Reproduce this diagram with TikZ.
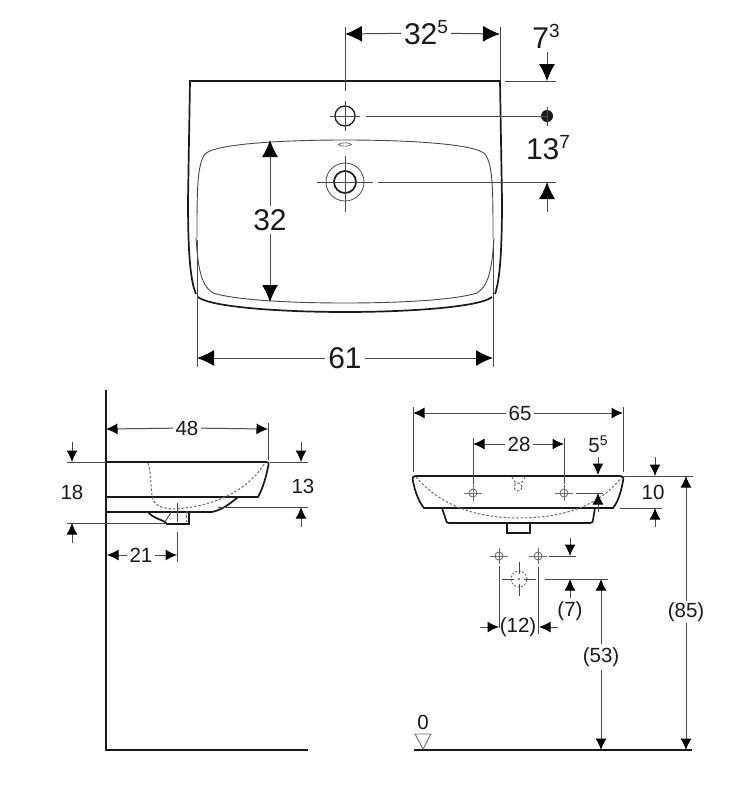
\documentclass[tikz,border=0pt]{standalone}
\usepackage{fontspec}
\setmainfont{Liberation Sans}
\usetikzlibrary{arrows.meta}
\definecolor{ink}{HTML}{1A1A1A}
\definecolor{dimc}{HTML}{4A4A4A}
\definecolor{ghost}{HTML}{6E6E6E}
\newcommand{\supA}[2]{#1\raisebox{0.36em}{\fontsize{19}{19}\selectfont #2}}
\newcommand{\supB}[2]{#1\raisebox{0.36em}{\fontsize{14}{14}\selectfont #2}}
\tikzset{
  outline/.style={draw=ink,line width=1.7pt},
  thinout/.style={draw=ink!80,line width=0.9pt},
  dimline/.style={draw=dimc,line width=1pt},
  hidden/.style={draw=ghost,line width=1pt,dash pattern=on 2.5pt off 1.8pt},
  bigtip/.style={draw=dimc,line width=1pt,-{Latex[length=17pt,width=16pt,color=black]}},
  smalltip/.style={draw=dimc,line width=1pt,-{Latex[length=11.5pt,width=11pt,color=black]}},
  biglabel/.style={text=ink,font=\fontsize{30}{30}\selectfont,inner sep=3pt},
  smalllabel/.style={text=ink,font=\fontsize{20.5}{20.5}\selectfont,inner sep=2.5pt},
}
\begin{document}
\begin{tikzpicture}[x=1pt,y=-1pt]
\useasboundingbox[fill=white] (0,0) rectangle (743,788);

% ---------- top view ----------
\draw[outline] (196,294) .. controls (190,280) and (188,250) .. (188,200) -- (190,81) -- (500,81) -- (502,200) .. controls (502,250) and (500,280) .. (495,294);
\draw[outline] (198,297) .. controls (210,307) and (280,312) .. (345,312) .. controls (410,312) and (480,307) .. (492,297);
\draw[thinout] (197,238) .. controls (197,190) and (197,165) .. (205,154) .. controls (215,144) and (280,140) .. (345,140) .. controls (410,140) and (475,144) .. (485,154) .. controls (493,165) and (493,190) .. (493,238);
\draw[thinout] (196,238) .. controls (198,265) and (200,285) .. (213,293) .. controls (235,300) and (290,303) .. (345,303) .. controls (400,303) and (455,300) .. (477,293) .. controls (490,285) and (492,265) .. (494,238);
\draw[thinout,line width=0.6pt] (345,144.5) ellipse [x radius=6.5pt,y radius=1.6pt];

\node[draw=ink,line width=1.3pt,circle,minimum size=20pt,inner sep=0pt] (tapT) at (345,116) {};
\draw[dimline] (330,116) -- (360,116) (345,101) -- (345,131);
\node[draw=ink,line width=1.7pt,circle,minimum size=22pt,inner sep=0pt] (tapH) at (345,182) {};
\node[draw=dimc,line width=0.8pt,circle,minimum size=38pt,inner sep=0pt] (tapO) at (345,182) {};
\draw[dimline] (317,182) -- (373,182) (345,156) -- (345,212);

\coordinate (a1) at (345,34); \coordinate (a2) at (500,34);
\node[biglabel] (d325) at (426,33) {\supA{32}{5}};
\draw[bigtip] (d325) -- (a1);
\draw[bigtip] (d325) -- (a2);
\draw[dimline] (345,27) -- (345,91) (500,27) -- (500,81);

\node[biglabel] (d73) at (546,36) {\supA{7}{3}};
\coordinate (b1) at (547,81);
\draw[bigtip] (547,52) -- (b1);
\draw[dimline] (505,81) -- (556,81);
\node[circle,fill=ink,minimum size=12pt,inner sep=0pt] (dot) at (547,116) {};
\draw[dimline] (366,116) -- (dot.center) (547,107) -- (547,126);
\node[biglabel] (d137) at (548,148) {\supA{13}{7}};
\coordinate (b2) at (547,182);
\draw[dimline] (378,182) -- (556,182);
\draw[bigtip] (547,212) -- (b2);

\node[biglabel] (d32) at (270,220) {32};
\coordinate (c1) at (270,140); \coordinate (c2) at (270,302);
\draw[bigtip] (d32) -- (c1);
\draw[bigtip] (d32) -- (c2);

\node[biglabel] (d61) at (345,358) {61};
\coordinate (e1) at (197,358); \coordinate (e2) at (493,358);
\draw[bigtip] (d61) -- (e1);
\draw[bigtip] (d61) -- (e2);
\draw[dimline] (197,240) -- (197,367) (493,240) -- (493,367);

% ---------- side view ----------
\draw[outline] (106,390) -- (106,750) -- (308,750);
\draw[outline] (106,462) -- (266,462) .. controls (269,462) and (269,464) .. (268,467) .. controls (266,478) and (262,490) .. (258,497) -- (106,497);
\draw[outline] (106,512) -- (212,512) .. controls (222,510) and (231,503) .. (238,497);
\draw[outline] (148,512) .. controls (153,518) and (160,519) .. (165,522) -- (167,524) -- (189,524) -- (189,512);
\draw[thinout] (165,522) -- (172,511);
\draw[hidden] (148,463) .. controls (152,475) and (150,490) .. (153,500) .. controls (156,506) and (162,508) .. (172,509) .. controls (205,508) and (245,495) .. (264,464);
\draw[hidden] (186,511) -- (186,522);
\draw[dimline] (177,503) -- (177,522);
\draw[dimline] (177,532) -- (177,562);

\node[smalllabel] (d48) at (187,428) {48};
\coordinate (f1) at (106,429); \coordinate (f2) at (268,429);
\draw[smalltip] (d48) -- (f1);
\draw[smalltip] (d48) -- (f2);
\draw[dimline] (268,423) -- (268,460);

\draw[dimline] (67,462) -- (106,462) (67,523) -- (165,523);
\coordinate (g1) at (72,462); \coordinate (g2) at (72,523);
\draw[smalltip] (72,442) -- (g1);
\draw[smalltip] (72,543) -- (g2);
\node[smalllabel] (d18) at (72,492) {18};

\draw[dimline] (270,462) -- (308,462) (218,507) -- (308,507);
\coordinate (h1) at (301,462); \coordinate (h2) at (301,507);
\draw[smalltip] (301,442) -- (h1);
\draw[smalltip] (301,527) -- (h2);
\node[smalllabel] (d13) at (303,486) {13};

\node[smalllabel] (d21) at (141,555) {21};
\coordinate (i1) at (107,555); \coordinate (i2) at (177,555);
\draw[smalltip] (d21) -- (i1);
\draw[smalltip] (d21) -- (i2);

% ---------- front view ----------
\draw[outline] (417,476) -- (619,476) .. controls (623,476) and (624,477) .. (623,481) .. controls (621,492) and (618,502) .. (613,508) -- (424,508) .. controls (419,502) and (415,492) .. (413,481) .. controls (412,477) and (413,476) .. (417,476);
\draw[outline] (442,508) -- (446,520) .. controls (446,522) and (447,523) .. (449,523) -- (590,523) .. controls (592,523) and (593,522) .. (593,520) -- (595,508);
\draw[outline] (507,523) -- (507,533) -- (530,533) -- (530,523);
\draw[hidden] (416,477) .. controls (440,505) and (475,518) .. (519,518) .. controls (565,518) and (600,505) .. (622,477);
\draw[hidden] (512,477) -- (516,484) (525,477) -- (521,484);
\node[hidden,circle,minimum size=8pt,inner sep=0pt] (ovf) at (518,487) {};

\foreach \nm/\cx/\cy in {pa/473/493, pb/564/493, pc/499/556, pd/538/556}{
  \node[draw=ghost,line width=0.9pt,circle,minimum size=8pt,inner sep=0pt] (\nm) at (\cx,\cy) {};
  \draw[draw=ghost,line width=0.9pt] (\cx-9,\cy) -- (\cx+9,\cy) (\cx,\cy-8) -- (\cx,\cy+8);
}

\node[smalllabel] (d65) at (520,413) {65};
\coordinate (j1) at (413,413); \coordinate (j2) at (623,413);
\draw[smalltip] (d65) -- (j1);
\draw[smalltip] (d65) -- (j2);
\draw[dimline] (413,407) -- (413,472) (623,407) -- (623,472);

\node[smalllabel] (d28) at (519,444) {28};
\coordinate (k1) at (473,444); \coordinate (k2) at (564,444);
\draw[smalltip] (d28) -- (k1);
\draw[smalltip] (d28) -- (k2);
\draw[dimline] (473,438) -- (473,484) (564,438) -- (564,484);

\node[smalllabel] (d55) at (598,444) {\supB{5}{5}};
\coordinate (l1) at (598,475); \coordinate (l2) at (598,493);
\draw[smalltip] (598,457) -- (l1);
\draw[dimline] (576,493) -- (603,493);
\draw[smalltip] (598,512) -- (l2);

\coordinate (m1) at (655,476); \coordinate (m2) at (655,508);
\draw[dimline] (624,476) -- (693,476) (620,508) -- (662,508);
\draw[smalltip] (655,457) -- (m1);
\draw[smalltip] (655,527) -- (m2);
\node[smalllabel] (d10) at (653,492) {10};

\node[smalllabel,inner sep=1pt] (d85) at (686,612) {(85)};
\coordinate (n1) at (686,476); \coordinate (n2) at (686,750);
\draw[smalltip] (d85) -- (n1);
\draw[smalltip] (d85) -- (n2);

\node[draw=ghost,line width=0.9pt,circle,dash pattern=on 2pt off 1.6pt,minimum size=16pt,inner sep=0pt] (drain) at (519,579) {};
\fill[ink] (519,579) circle[radius=0.8pt];
\draw[dimline] (502,579) -- (514,579) (524,579) -- (536,579) (519,562) -- (519,574) (519,584) -- (519,596);

\draw[dimline] (499,566) -- (499,628) (538,567) -- (538,634);
\node[smalllabel,inner sep=0pt] (d12) at (518,627) {(12)};
\coordinate (o1) at (499,627); \coordinate (o2) at (539,627);
\draw[smalltip] (480,627) -- (o1);
\draw[smalltip] (558,627) -- (o2);

\draw[dimline] (549,556) -- (576,556) (545,579) -- (608,579);
\coordinate (q1) at (570,556); \coordinate (q2) at (570,579);
\draw[smalltip] (570,538) -- (q1);
\draw[smalltip] (570,598) -- (q2);
\node[smalllabel] (d7) at (570,611) {(7)};

\node[smalllabel,inner sep=3pt] (d53) at (601,657) {(53)};
\coordinate (r1) at (601,579); \coordinate (r2) at (601,750);
\draw[smalltip] (d53) -- (r1);
\draw[smalltip] (d53) -- (r2);

\draw[draw=ink,line width=1.8pt] (414,750) -- (692,750);
\draw[draw=ghost,line width=0.9pt] (415,734) -- (431,734) -- (423,749) -- cycle;
\node[smalllabel] (d0) at (423,722) {0};
\end{tikzpicture}
\end{document}
